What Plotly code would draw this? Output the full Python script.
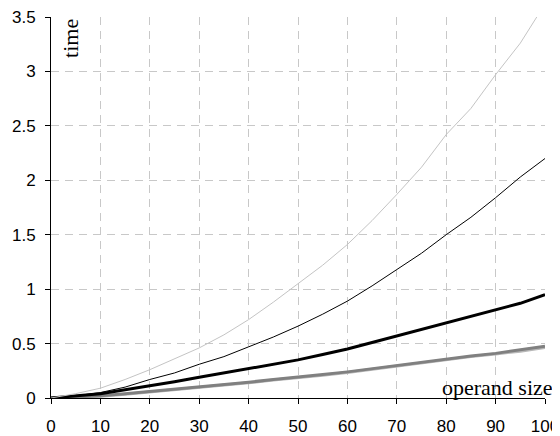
import plotly.graph_objects as go

x_vals = [0, 5, 10, 15, 20, 25, 30, 35, 40, 45, 50, 55, 60, 65, 70, 75, 80, 85, 90, 95, 100]

light_thin = [0, 0.04, 0.09, 0.17, 0.26, 0.36, 0.46, 0.58, 0.72, 0.88, 1.05, 1.22, 1.41, 1.63, 1.87, 2.12, 2.42, 2.66, 2.97, 3.26, 3.62]
black_thin = [0, 0.02, 0.05, 0.10, 0.17, 0.23, 0.31, 0.38, 0.47, 0.56, 0.66, 0.77, 0.89, 1.03, 1.18, 1.33, 1.50, 1.66, 1.84, 2.03, 2.20]
black_thick = [0, 0.02, 0.04, 0.075, 0.11, 0.15, 0.19, 0.23, 0.27, 0.31, 0.35, 0.40, 0.45, 0.51, 0.57, 0.63, 0.69, 0.75, 0.81, 0.87, 0.95]
gray_thick = [0, 0.01, 0.02, 0.04, 0.06, 0.08, 0.10, 0.12, 0.145, 0.17, 0.19, 0.215, 0.24, 0.27, 0.295, 0.33, 0.36, 0.385, 0.41, 0.44, 0.475]
lightgray_thick = [0, 0.008, 0.017, 0.035, 0.055, 0.075, 0.095, 0.115, 0.14, 0.165, 0.185, 0.21, 0.235, 0.265, 0.29, 0.325, 0.355, 0.38, 0.405, 0.43, 0.465]

x_ticks = [0, 10, 20, 30, 40, 50, 60, 70, 80, 90, 100]
y_ticks = [0, 0.5, 1, 1.5, 2, 2.5, 3, 3.5]
y_tick_text = ["0", "0.5", "1", "1.5", "2", "2.5", "3", "3.5"]

fig = go.Figure()
series = [
    (lightgray_thick, "#b8b8b8", 3),
    (gray_thick, "#808080", 3),
    (black_thick, "#000000", 3),
    (black_thin, "#000000", 1),
    (light_thin, "#c4c4c4", 1),
]
for ys, col, w in series:
    fig.add_trace(go.Scatter(x=x_vals, y=ys, mode="lines",
                             line=dict(color=col, width=w), showlegend=False))

grid = dict(showgrid=True, gridcolor="#c8c8c8", gridwidth=1, griddash="8px,6px")
tickfont = dict(family="Liberation Sans", size=17, color="black")
fig.update_xaxes(range=[0, 100], tickvals=x_ticks, showline=True, linecolor="black", linewidth=1,
                 ticks="outside", ticklen=5, tickcolor="black", zeroline=False, automargin=False,
                 ticklabelstandoff=8, ticklabeloverflow="allow", tickfont=tickfont, **grid)
fig.update_yaxes(range=[0, 3.5], tickvals=y_ticks, ticktext=y_tick_text, showline=True, linecolor="black", linewidth=1,
                 ticks="outside", ticklen=5, tickcolor="black", zeroline=False, automargin=False,
                 ticklabelstandoff=6, ticklabeloverflow="allow", tickfont=tickfont, **grid)

fig.add_annotation(text="time", xref="paper", yref="paper", x=0.01, y=1.0, xanchor="left", yanchor="top",
                   textangle=-90, showarrow=False,
                   font=dict(family="Liberation Serif", size=22, color="black"))
fig.add_annotation(text="operand size", xref="paper", yref="paper", x=1.02, y=-0.01, xanchor="right", yanchor="bottom",
                   showarrow=False,
                   font=dict(family="Liberation Serif", size=22, color="black"))

# page body has an 8px default margin, so the figure is shifted by 8px
fig.update_layout(width=552, height=428, margin=dict(l=43, r=15, t=9, b=38),
                  plot_bgcolor="white", paper_bgcolor="white")
fig.write_html("out.html")
